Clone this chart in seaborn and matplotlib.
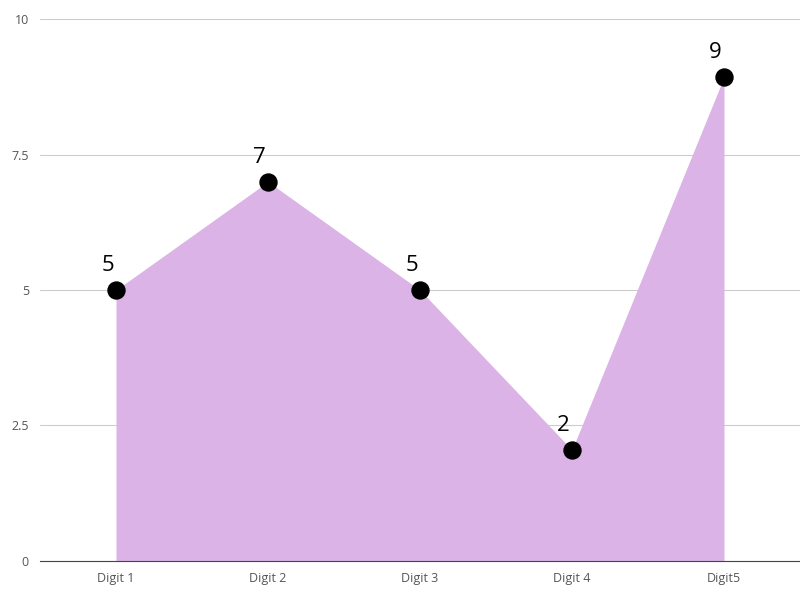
import matplotlib.pyplot as plt
import pandas as pd
import seaborn as sns

# data
categories = ["Digit 1", "Digit 2", "Digit 3", "Digit 4", "Digit5"]
values = [5, 7, 5, 2.05, 8.93]
point_labels = ["5", "7", "5", "2", "9"]

df = pd.DataFrame({"x": range(len(categories)), "value": values})

sns.set_theme(style="white")
plt.rcParams["font.family"] = ["Open Sans", "DejaVu Sans"]

fig = plt.figure(figsize=(8, 5.98), dpi=100)
ax = fig.add_axes([0.05, 0.062, 0.95, 0.906])

ax.fill_between(df["x"], 0, df["value"], color="#dbb3e6", linewidth=0, zorder=2)
sns.scatterplot(data=df, x="x", y="value", color="black", s=150, edgecolor="black", zorder=3, ax=ax, legend=False)

for x, y, lab in zip(df["x"], df["value"], point_labels):
    ax.annotate(lab, (x, y), xytext=(-6, 10), textcoords="offset points",
                ha="center", va="bottom", fontsize=16, color="black")

ax.set_xlim(-0.5, 4.5)
ax.set_ylim(0, 10)
ax.set_xticks(range(len(categories)))
ax.set_xticklabels(categories)
ax.set_yticks([0, 2.5, 5, 7.5, 10])
ax.set_yticklabels(["0", "2.5", "5", "7.5", "10"])
ax.tick_params(axis="both", labelsize=9, colors="#555555", length=0, pad=8)
ax.yaxis.grid(True, color="#cccccc", linewidth=0.8)
ax.set_axisbelow(True)
ax.set_xlabel("")
ax.set_ylabel("")
for side in ["top", "right", "left"]:
    ax.spines[side].set_visible(False)
ax.spines["bottom"].set_color("#444444")
ax.spines["bottom"].set_linewidth(0.8)

fig.savefig("out.png", dpi=100)
